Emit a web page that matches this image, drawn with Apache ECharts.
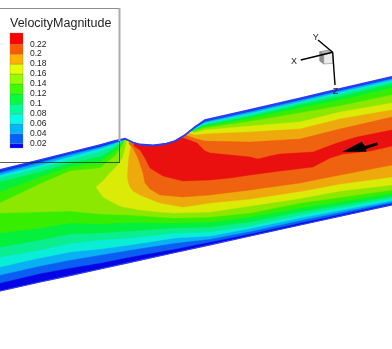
<!DOCTYPE html>
<html>
<head>
<meta charset="utf-8">
<style>
  html, body { margin: 0; padding: 0; background: #fff; }
  #chart { width: 392px; height: 349px; }
</style>
<script src="https://cdn.jsdelivr.net/npm/echarts@6/dist/echarts.min.js"></script>
</head>
<body>
<div id="chart"></div>
<script>
// legend
const legendTitle = 'VelocityMagnitude'
const tickValues = [0.02, 0.04, 0.06, 0.08, 0.1, 0.12, 0.14, 0.16, 0.18, 0.2, 0.22]
const bandEdges = [0.0113, 0.02, 0.04, 0.06, 0.08, 0.1, 0.12, 0.14, 0.16, 0.18, 0.2, 0.22, 0.2425]
const legendColors = ['#0000ff', '#0060ff', '#00b4ff', '#00ffe6', '#00ff96', '#00ff3c', '#3cff00', '#96ff00', '#e6ff00', '#ffb000', '#ff5a00', '#ff0000']
// same levels, a bit darker because of the lighting in the plot
const fieldColors = ['#0404e4', '#0a5ff2', '#0ab0f4', '#0aeed8', '#0aee90', '#04f03c', '#38ee00', '#8ce800', '#dcea08', '#eeaa0c', '#ee6210', '#ea1010']

// walls
const upperX = [0, 40, 70, 100, 115, 122, 125, 133, 140, 153, 165, 175, 185, 195, 205, 250, 300, 340, 392]
const lowerX = [0, 40, 70, 100, 130, 175, 210, 250, 300, 392]
const wallTop = [170, 160, 152.5, 145, 141, 139.5, 138.8, 142.5, 144.5, 145.5, 144, 141, 135, 127, 120, 110, 98.5, 89, 77]
const wallBottom = [291, 282, 275.6, 269, 262.4, 252.5, 244.8, 236, 225, 204.8]

// contour edges, levels 1-7 share the stations
const level1Top = [171.5, 161.5, 153.5, 146.5, 142, 140, 139, 142.5, 144.5, 145.5, 144, 141, 135, 127.5, 121, 111, 99.5, 90, 78]
const level2Top = [173.5, 163, 155, 147.5, 143, 140.5, 139, 142.5, 144.5, 145.5, 144, 141, 135, 128, 122, 112, 100.5, 91, 79]
const level3Top = [175.5, 165.5, 157, 149, 144, 141, 139, 142.5, 144.5, 145.5, 144, 141, 135, 128.5, 123, 113.5, 102, 92.5, 80.5]
const level4Top = [178, 168, 160, 152, 145.5, 141.5, 139, 142.5, 144.5, 145.5, 144, 141, 135, 129, 124, 115, 103, 94, 82]
const level5Top = [182, 172, 163, 157, 148, 142.5, 139, 142.5, 144.5, 145.5, 144, 141, 135, 129.5, 125, 116.5, 105, 96.5, 84]
const level6Top = [192, 177, 167, 162, 151, 144, 139, 142.5, 144.5, 145.5, 144, 141, 135, 130, 126.5, 118.5, 108, 100, 88]
const level7Top = [203, 184, 171, 168, 156, 146, 139, 142.5, 144.5, 145.5, 144, 141, 135, 131, 128, 121.5, 113, 106, 95]
const level1Bottom = [283, 273.5, 268, 263, 257, 249, 242, 234, 223, 203.5]
const level2Bottom = [275, 266, 260, 255, 250, 243, 239, 231.5, 220.5, 202]
const level3Bottom = [267, 258, 252, 249, 245, 238, 236, 228.5, 218, 200.5]
const level4Bottom = [257, 250, 243.5, 240, 238, 233, 232, 226, 215, 198.5]
const level5Bottom = [247, 240, 234, 233, 231, 228, 227, 222, 212, 196.5]
const level6Bottom = [233, 228, 223, 224, 222.5, 223, 222, 217, 208, 193.5]
const level7Bottom = [213, 212, 211, 214, 215, 218, 217, 213, 203, 190]

// inner levels start behind the corner of the notch
const level8TopX = [96, 103, 110, 118, 123, 127, 133, 140, 153, 165, 175, 185, 190, 195, 205, 250, 300, 340, 392]
const level8Top = [187, 181, 173, 165, 157, 141, 142.5, 144.5, 145.5, 144, 141, 135, 131, 133, 130, 126, 122, 112, 103]
const level8BottomX = [96, 103, 110, 118, 123, 130, 140, 160, 175, 210, 250, 300, 340, 392]
const level8Bottom = [187, 197, 201, 205, 207, 208, 210, 212, 213, 212, 206, 198.5, 191, 185]

const level9TopX = [127.5, 128.5, 130, 131.5, 133, 140, 153, 165, 175, 185, 188, 195, 205, 250, 300, 340, 392]
const level9Top = [175, 160, 150, 144, 143, 144.5, 145.5, 144, 141, 135, 133, 135, 134, 132, 129, 119, 110]
const level9BottomX = [127.5, 128.5, 130, 131.5, 133, 140, 160, 183, 210, 250, 300, 340, 392]
const level9Bottom = [177, 183, 187, 189, 191, 195, 203, 207, 203, 199, 191.5, 184, 177]

const level10TopX = [129, 133, 140, 153, 165, 175, 185, 195, 205, 250, 300, 340, 392]
const level10Top = [142, 143, 144.5, 145.5, 144, 141, 135, 138.5, 141, 142, 139, 129, 117]
const level10BottomX = [129, 133, 138, 143, 145, 150, 160, 183, 210, 250, 300, 340, 392]
const level10Bottom = [144, 148, 158, 173, 183, 189, 195, 197, 195, 190, 183, 175, 165]

const level11TopX = [134, 140, 153, 165, 175, 182, 197, 205, 210, 230, 250, 258, 270, 280, 313, 337, 357, 392]
const level11Top = [143.5, 144.5, 145.5, 144, 141, 137.5, 143, 151, 153, 155, 157, 159, 156, 154, 152, 143, 137, 130]
const level11BottomX = [134, 140, 145, 150, 163, 183, 210, 230, 250, 280, 313, 330, 343, 370, 392]
const level11Bottom = [146, 150, 158, 168, 176, 181, 180, 178, 175, 171, 167, 158, 154, 151, 146]

// velocity vector and orientation triad
const vectorX = [342.3, 361.7, 365, 377, 378, 366, 366.5]
const vectorY = [151.7, 141.7, 146, 142.5, 145, 149, 151.7]
const triadOrigin = [332.7, 52.3]
const triadNames = ['X', 'Y', 'Z']
const triadEndX = [300.7, 318, 335]
const triadEndY = [60, 40, 85]
const triadLabelX = [294, 315.7, 335.5]
const triadLabelY = [62, 37.5, 91.5]

function outline(topX, topY, bottomX, bottomY) {
  const pts = topX.map((x, i) => [x, topY[i]])
  for (let i = bottomX.length - 1; i >= 0; i--) pts.push([bottomX[i], bottomY[i]])
  return pts
}

function fieldSeries(points, color, stroke) {
  return {
    type: 'custom',
    coordinateSystem: 'cartesian2d',
    xAxisIndex: 0,
    yAxisIndex: 0,
    silent: true,
    data: [0],
    renderItem: (params, api) => ({
      type: 'polygon',
      shape: { points: points.map((p) => api.coord(p)) },
      style: { fill: color, stroke: stroke || color, lineWidth: stroke ? 1.6 : 0.4 }
    })
  }
}

const levels = [
  outline(upperX, wallTop, lowerX, wallBottom),
  outline(upperX, level1Top, lowerX, level1Bottom),
  outline(upperX, level2Top, lowerX, level2Bottom),
  outline(upperX, level3Top, lowerX, level3Bottom),
  outline(upperX, level4Top, lowerX, level4Bottom),
  outline(upperX, level5Top, lowerX, level5Bottom),
  outline(upperX, level6Top, lowerX, level6Bottom),
  outline(upperX, level7Top, lowerX, level7Bottom),
  outline(level8TopX, level8Top, level8BottomX, level8Bottom),
  outline(level9TopX, level9Top, level9BottomX, level9Bottom),
  outline(level10TopX, level10Top, level10BottomX, level10Bottom),
  outline(level11TopX, level11Top, level11BottomX, level11Bottom)
]
const series = levels.map((pts, i) => fieldSeries(pts, fieldColors[i]))

// wall line on top of the contours
series.push({
  type: 'custom',
  xAxisIndex: 0,
  yAxisIndex: 0,
  silent: true,
  data: [0],
  renderItem: (params, api) => ({
    type: 'group',
    children: [
      {
        type: 'polyline',
        shape: { points: upperX.map((x, i) => api.coord([x, wallTop[i]])) },
        style: { stroke: '#2f3cf0', fill: null, lineWidth: 1.8 }
      },
      {
        type: 'polyline',
        shape: { points: lowerX.map((x, i) => api.coord([x, wallBottom[i]])) },
        style: { stroke: '#2f3cf0', fill: null, lineWidth: 1.2 }
      }
    ]
  })
})

// arrow
series.push({
  type: 'custom',
  xAxisIndex: 0,
  yAxisIndex: 0,
  silent: true,
  data: [0],
  renderItem: (params, api) => ({
    type: 'polygon',
    shape: { points: vectorX.map((x, i) => api.coord([x, vectorY[i]])) },
    style: { fill: '#000' }
  })
})

// triad: cube and three axes
series.push({
  type: 'custom',
  xAxisIndex: 0,
  yAxisIndex: 0,
  silent: true,
  data: [0],
  renderItem: (params, api) => {
    const face = (pts, fill) => ({
      type: 'polygon',
      shape: { points: pts.map((p) => api.coord(p)) },
      style: { fill, stroke: '#777', lineWidth: 0.5 }
    })
    const children = [
      face([[319.7, 51.7], [328.3, 50], [332.7, 52.3], [323.7, 54.3]], '#b4b4b4'),
      face([[319.7, 51.7], [323.7, 54.3], [323.7, 64], [319.7, 61]], '#8e8e8e'),
      face([[323.7, 54.3], [332.7, 52.3], [332.7, 63.3], [323.7, 64]], '#ececec')
    ]
    triadNames.forEach((name, i) => {
      children.push({
        type: 'line',
        shape: {
          x1: api.coord(triadOrigin)[0],
          y1: api.coord(triadOrigin)[1],
          x2: api.coord([triadEndX[i], triadEndY[i]])[0],
          y2: api.coord([triadEndX[i], triadEndY[i]])[1]
        },
        style: { stroke: '#000', lineWidth: 1.4 }
      })
      const at = api.coord([triadLabelX[i], triadLabelY[i]])
      children.push({
        type: 'text',
        x: at[0],
        y: at[1],
        style: {
          text: name,
          fill: '#222',
          fontFamily: 'Liberation Sans',
          fontSize: 9,
          align: 'center',
          verticalAlign: 'middle'
        }
      })
    })
    return { type: 'group', children }
  }
})

// legend frame
series.push({
  type: 'custom',
  xAxisIndex: 0,
  yAxisIndex: 0,
  silent: true,
  z: 5,
  data: [0],
  renderItem: (params, api) => {
    const seg = (a, b, stroke, lineWidth) => ({
      type: 'line',
      shape: { x1: a[0], y1: a[1], x2: b[0], y2: b[1] },
      style: { stroke, lineWidth }
    })
    return {
      type: 'group',
      children: [
        seg([0, 8.5], [120, 8.5], '#8c8c8c', 1),
        seg([119.5, 8], [119.5, 141], '#ababab', 2),
        seg([119.5, 141], [119.5, 163], 'rgba(30,40,30,0.75)', 1),
        seg([0, 162.5], [120, 162.5], 'rgba(30,40,30,0.75)', 1)
      ]
    }
  }
})

// colour bar, uses the second grid so the tick labels come from the axis
series.push({
  type: 'custom',
  xAxisIndex: 1,
  yAxisIndex: 1,
  silent: true,
  data: legendColors.map((c, i) => [0, i]),
  renderItem: (params, api) => {
    const i = api.value(1)
    const a = api.coord([0, bandEdges[i]])
    const b = api.coord([1, bandEdges[i + 1]])
    return {
      type: 'rect',
      shape: { x: a[0], y: b[1], width: b[0] - a[0], height: a[1] - b[1] },
      style: { fill: legendColors[i], stroke: 'rgba(120,120,90,0.6)', lineWidth: 0.5 }
    }
  }
})

const option = {
  animation: false,
  backgroundColor: '#fff',
  textStyle: { fontFamily: 'Liberation Sans' },
  title: {
    text: legendTitle,
    left: 10,
    top: 17,
    padding: 0,
    textStyle: { fontFamily: 'Liberation Sans', fontSize: 12.5, fontWeight: 'normal', color: '#222' }
  },
  grid: [
    { left: 0, top: 0, width: 392, height: 349 },
    { left: 10, top: 33, width: 13, height: 115 }
  ],
  xAxis: [
    { type: 'value', min: 0, max: 392, show: false, gridIndex: 0 },
    { type: 'value', min: 0, max: 1, show: false, gridIndex: 1 }
  ],
  yAxis: [
    { type: 'value', min: 0, max: 349, inverse: true, show: false, gridIndex: 0 },
    {
      type: 'value',
      gridIndex: 1,
      position: 'right',
      min: bandEdges[0],
      max: bandEdges[bandEdges.length - 1],
      axisLine: { show: false },
      axisTick: { show: false },
      splitLine: { show: false },
      axisLabel: {
        show: true,
        customValues: tickValues,
        margin: 7,
        fontSize: 8.5,
        color: '#222',
        fontFamily: 'Liberation Sans'
      }
    }
  ],
  series
}

const chart = echarts.init(document.getElementById('chart'), null, { renderer: 'canvas' })
chart.setOption(option)
</script>
</body>
</html>
